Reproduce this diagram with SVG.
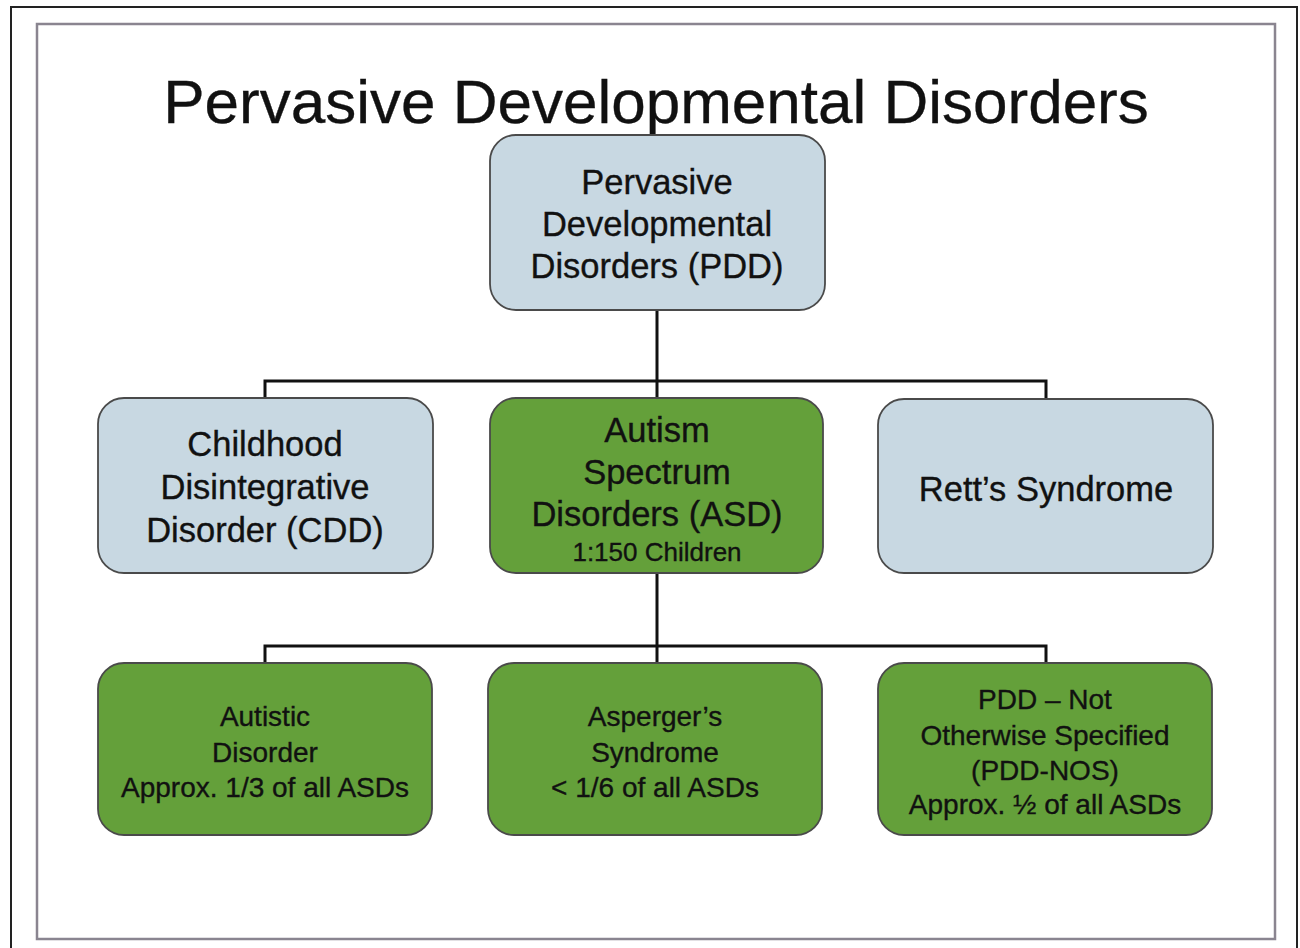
<svg xmlns="http://www.w3.org/2000/svg" width="1300" height="948" viewBox="0 0 1300 948">
  <style>
    .frame-outer { fill: none; stroke: #222; stroke-width: 2; }
    .frame-inner { fill: none; stroke: #8a8590; stroke-width: 2.5; }
    .title { font-family: "Liberation Sans", Arial, sans-serif; font-size: 62px; fill: #111; text-anchor: middle; }
    .box { stroke: #4a4a4a; stroke-width: 1.8; }
    .blue { fill: #c8d8e2; }
    .green { fill: #64a03a; }
    text { stroke: #111; stroke-width: 0.35; }
    .lbl { font-family: "Liberation Sans", Arial, sans-serif; font-size: 34.5px; fill: #111; text-anchor: middle; }
    .sm { font-family: "Liberation Sans", Arial, sans-serif; font-size: 26px; fill: #111; text-anchor: middle; }
    .md { font-family: "Liberation Sans", Arial, sans-serif; font-size: 28px; fill: #111; text-anchor: middle; }
    .conn { fill: none; stroke: #111; stroke-width: 3; }
  </style>

  <rect width="1300" height="948" fill="#ffffff"/>
  <!-- page borders -->
  <rect class="frame-outer" x="11" y="7" width="1286" height="960"/>
  <rect class="frame-inner" x="37" y="24" width="1238" height="915"/>

  <text class="title" x="656" y="123">Pervasive Developmental Disorders</text>

  <!-- tree connectors -->
  <g id="connectors">
    <path class="conn" d="M657 310 V398 M265 398 V381 H1046 V398"/>
    <path class="conn" d="M657 573 V663 M265 663 V646 H1046 V663"/>
  </g>

  <g id="pdd">
    <rect class="box blue" x="490" y="135" width="335" height="175" rx="26"/>
    <text class="lbl" x="657" y="194">Pervasive</text>
    <text class="lbl" x="657" y="236">Developmental</text>
    <text class="lbl" x="657" y="278">Disorders (PDD)</text>
  </g>

  <g id="cdd">
    <rect class="box blue" x="98" y="398" width="335" height="175" rx="26"/>
    <text class="lbl" x="265" y="456">Childhood</text>
    <text class="lbl" x="265" y="499">Disintegrative</text>
    <text class="lbl" x="265" y="542">Disorder (CDD)</text>
  </g>

  <g id="asd">
    <rect class="box green" x="490" y="398" width="333" height="175" rx="26"/>
    <text class="lbl" x="657" y="442">Autism</text>
    <text class="lbl" x="657" y="484">Spectrum</text>
    <text class="lbl" x="657" y="526">Disorders (ASD)</text>
    <text class="sm" x="657" y="561">1:150 Children</text>
  </g>

  <g id="rett">
    <rect class="box blue" x="878" y="399" width="335" height="174" rx="26"/>
    <text class="lbl" x="1046" y="501">Rett’s Syndrome</text>
  </g>

  <g id="autistic">
    <rect class="box green" x="98" y="663" width="334" height="172" rx="26"/>
    <text class="md" x="265" y="726">Autistic</text>
    <text class="md" x="265" y="762">Disorder</text>
    <text class="md" x="265" y="797">Approx. 1/3 of all ASDs</text>
  </g>

  <g id="asperger">
    <rect class="box green" x="488" y="663" width="334" height="172" rx="26"/>
    <text class="md" x="655" y="726">Asperger’s</text>
    <text class="md" x="655" y="762">Syndrome</text>
    <text class="md" x="655" y="797">&lt; 1/6 of all ASDs</text>
  </g>

  <g id="pdd-nos">
    <rect class="box green" x="878" y="663" width="334" height="172" rx="26"/>
    <text class="md" x="1045" y="709">PDD – Not</text>
    <text class="md" x="1045" y="745">Otherwise Specified</text>
    <text class="md" x="1045" y="780">(PDD-NOS)</text>
    <text class="md" x="1045" y="814">Approx. ½ of all ASDs</text>
  </g>
</svg>
